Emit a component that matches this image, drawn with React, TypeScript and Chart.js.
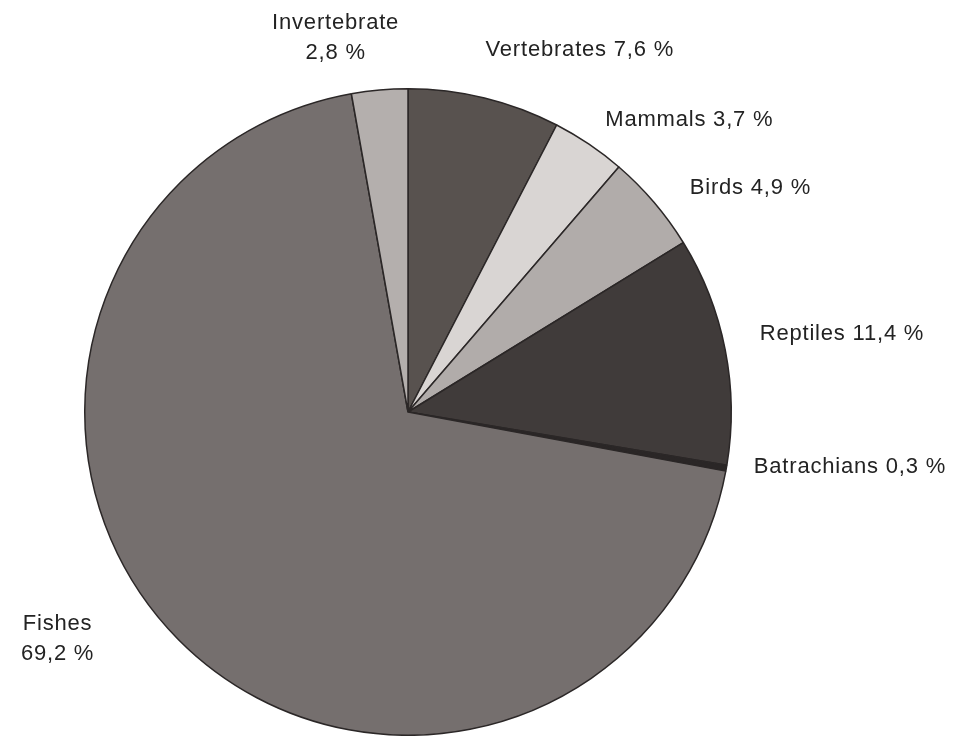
import React, { useEffect, useRef } from "react";
import { Chart, registerables } from "chart.js";

Chart.register(...registerables);

const categories = ["Vertebrates", "Mammals", "Birds", "Reptiles", "Batrachians", "Fishes", "Invertebrate"];
const values = [7.6, 3.7, 4.9, 11.4, 0.3, 69.2, 2.8];
const valueLabels = ["7,6 %", "3,7 %", "4,9 %", "11,4 %", "0,3 %", "69,2 %", "2,8 %"];
const colors = ["#58524f", "#d9d5d3", "#b1acaa", "#403b3a", "#2a2626", "#756f6e", "#b4afad"];

// label layout: shift of angle (deg) from slice mid-angle, radial gap beyond outer radius, alignment, two-line?
const labelLayout = [
  { shift: -1.6, gap: 47, align: "left", twoLine: false },
  { shift: 0, gap: 29, align: "left", twoLine: false },
  { shift: 1.9, gap: 37, align: "left", twoLine: false },
  { shift: -1.4, gap: 37, align: "left", twoLine: false },
  { shift: -0.9, gap: 27, align: "left", twoLine: false },
  { shift: 11.9, gap: 94, align: "center", twoLine: true },
  { shift: -5.9, gap: 58, align: "center", twoLine: true },
];

const labelPlugin = {
  id: "sliceLabels",
  afterDatasetsDraw(chart: any) {
    const ctx = chart.ctx;
    const meta = chart.getDatasetMeta(0);
    ctx.save();
    ctx.font = '22px "Liberation Sans", Arial, sans-serif';
    (ctx as any).letterSpacing = "0.8px";
    ctx.fillStyle = "#232323";
    ctx.textBaseline = "middle";
    meta.data.forEach((arc: any, i: number) => {
      const p = arc.getProps(["x", "y", "startAngle", "endAngle", "outerRadius"], true);
      const lay = labelLayout[i];
      const a = (p.startAngle + p.endAngle) / 2 + (lay.shift * Math.PI) / 180;
      const r = p.outerRadius + lay.gap;
      const x = p.x + r * Math.cos(a);
      const y = p.y + r * Math.sin(a);
      ctx.textAlign = lay.align;
      if (lay.twoLine) {
        ctx.fillText(categories[i], x, y - 15);
        ctx.fillText(valueLabels[i], x, y + 15);
      } else {
        ctx.fillText(categories[i] + " " + valueLabels[i], x, y);
      }
    });
    ctx.restore();
  },
};

export default function App() {
  const ref = useRef<HTMLCanvasElement>(null);
  useEffect(() => {
    const chart = new Chart(ref.current!, {
      type: "pie",
      data: {
        labels: categories,
        datasets: [
          {
            data: values,
            backgroundColor: colors,
            borderColor: "#2b2727",
            borderWidth: 1.5,
          },
        ],
      },
      options: {
        responsive: false,
        animation: false,
        layout: { padding: { left: 84, top: 88, right: 228, bottom: 0 } },
        plugins: { legend: { display: false }, tooltip: { enabled: false } },
      },
      plugins: [labelPlugin],
    });
    return () => chart.destroy();
  }, []);
  return (
    <div style={{ position: "absolute", left: 0, top: 0, width: 960, height: 736, background: "#fff" }}>
      <canvas ref={ref} width={960} height={736} />
    </div>
  );
}
